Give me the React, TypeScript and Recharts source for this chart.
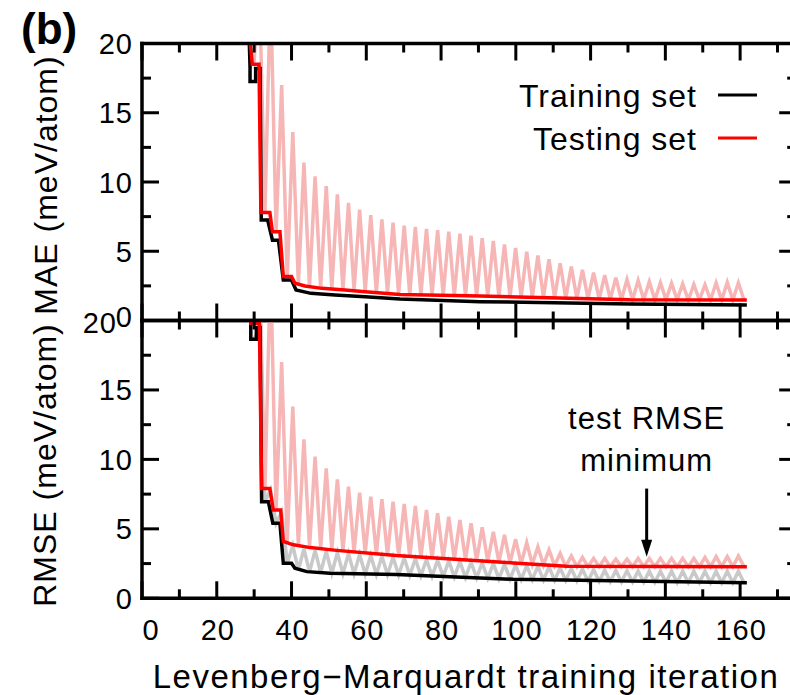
import React from 'react';
import { LineChart, Line, XAxis, YAxis, ReferenceLine } from 'recharts';

const FONT = '"Liberation Sans", Arial, Helvetica, sans-serif';

// ---------- axes ----------
const xTicks = [0, 10, 20, 30, 40, 50, 60, 70, 80, 90, 100, 110, 120, 130, 140, 150, 160, 170];
const xLabelTicks = [0, 20, 40, 60, 80, 100, 120, 140, 160];
const yTicks = [0, 2.5, 5, 7.5, 10, 12.5, 15, 17.5, 20];
const yLabelTicks = [0, 5, 10, 15, 20];
const xDomain = [0, 175];
const yDomain = [0, 20];

const seriesNames = ['Training set', 'Testing set'];
const xTitle = 'Levenberg\u2212Marquardt training iteration';
const maeTitle = 'MAE (meV/atom)';
const rmseTitle = 'RMSE (meV/atom)';
const annotation = ['test RMSE', 'minimum'];
const annotationX = 135;
const annotationFrom = 7.9;
const annotationTo = 3.0;

// ---------- main curves (accepted steps) ----------
const maeTrainX = [28.6, 28.9, 28.9, 30.4, 30.4, 31.6, 31.9, 33.6, 34.9, 36.5, 37.8, 40.0, 41.2, 45.2, 51.6, 59.7, 69.0, 90.4, 130.5, 161.8];
const maeTrainY = [21, 18.3, 17.25, 17.25, 18.2, 18.2, 7.26, 7.26, 5.8, 5.8, 2.93, 2.93, 2.2, 1.96, 1.84, 1.72, 1.55, 1.36, 1.2, 1.12];
const maeTestX = [28.6, 29.5, 31.3, 31.8, 34.2, 34.9, 36.9, 37.8, 40.0, 40.9, 43.6, 48.1, 54.3, 59.7, 69.0, 90.4, 130.5, 161.8];
const maeTestY = [21, 18.5, 18.5, 7.8, 7.8, 6.4, 6.4, 3.17, 3.17, 2.69, 2.49, 2.32, 2.2, 2.08, 1.88, 1.77, 1.5, 1.48];

const rmseTrainX = [29.1, 29.1, 30.6, 30.6, 31.6, 32.0, 33.8, 35.0, 36.9, 37.8, 40.0, 40.9, 44.1, 50.3, 68.0, 99.3, 161.8];
const rmseTrainY = [21, 18.65, 18.65, 19.5, 19.5, 6.95, 6.95, 5.4, 5.4, 2.52, 2.52, 2.16, 1.92, 1.8, 1.72, 1.37, 1.12];
const rmseTestX = [29.1, 29.1, 31.4, 32.0, 34.2, 35.1, 37.1, 37.8, 40.5, 45.0, 52.0, 68.0, 99.3, 113.6, 161.8];
const rmseTestY = [21, 19.8, 19.8, 7.9, 7.9, 6.36, 6.36, 4.1, 3.85, 3.65, 3.45, 3.08, 2.55, 2.3, 2.28];

// ---------- every evaluation (zig-zag) ----------
const zigStartX = 31.4;
const zigStep = 2.98;

const maeTestPeaks = [24, 24, 17.0, 13.6, 11.4, 10.4, 9.7, 9.1, 8.5, 8.0, 7.6, 7.3, 7.07, 6.85, 6.75, 6.62, 6.52, 6.42, 6.27, 6.12, 5.94, 5.74, 5.5, 5.24, 4.97, 4.7, 4.42, 4.13, 3.89, 3.65, 3.46, 3.27, 3.1, 2.96, 2.88, 2.8, 2.73, 2.69, 2.65, 2.6, 2.58, 2.72, 2.75, 2.72];
const maeTestValleys = [18.5, 7.8, 6.4, 3.17, 2.6, 2.45, 2.33, 2.27, 2.2, 2.15, 2.08, 2.03, 1.97, 1.9, 1.88, 1.86, 1.84, 1.82, 1.8, 1.79, 1.77, 1.75, 1.73, 1.71, 1.69, 1.67, 1.65, 1.63, 1.61, 1.59, 1.57, 1.55, 1.53, 1.51, 1.5, 1.5, 1.49, 1.49, 1.49, 1.48, 1.48, 1.48, 1.48, 1.48, 1.48];

const rmseTestPeaks = [24, 24, 17.0, 13.8, 11.45, 10.2, 9.36, 8.57, 8.03, 7.6, 7.31, 7.13, 6.95, 6.79, 6.65, 6.36, 6.12, 5.87, 5.64, 5.4, 5.11, 4.79, 4.56, 4.25, 4.0, 3.71, 3.48, 3.24, 3.05, 2.95, 2.88, 2.88, 2.81, 2.81, 2.88, 2.88, 2.88, 2.88, 2.88, 2.88, 2.95, 3.0, 3.0, 3.05];
const rmseTestValleys = [19.8, 7.9, 6.36, 4.1, 3.78, 3.66, 3.57, 3.48, 3.4, 3.33, 3.26, 3.19, 3.12, 3.07, 3.01, 2.95, 2.9, 2.85, 2.8, 2.75, 2.7, 2.65, 2.6, 2.56, 2.5, 2.45, 2.4, 2.35, 2.3, 2.28, 2.28, 2.28, 2.28, 2.28, 2.28, 2.28, 2.28, 2.28, 2.28, 2.28, 2.28, 2.28, 2.28, 2.28, 2.28];

const rmseTrainPeaks = [19.5, 7.8, 6.2, 3.8, 3.55, 3.45, 3.38, 3.3, 3.22, 3.15, 3.08, 3.02, 2.96, 2.9, 2.85, 2.8, 2.75, 2.7, 2.65, 2.6, 2.55, 2.5, 2.45, 2.4, 2.35, 2.3, 2.25, 2.2, 2.15, 2.1, 2.05, 2.02, 2.0, 1.98, 1.96, 1.95, 1.95, 1.95, 1.95, 1.95, 1.95, 1.95, 1.95, 1.95];
const rmseTrainValleys = [18.65, 6.95, 5.4, 2.52, 2.05, 1.9, 1.85, 1.8, 1.78, 1.76, 1.74, 1.72, 1.7, 1.68, 1.65, 1.62, 1.59, 1.56, 1.53, 1.5, 1.47, 1.44, 1.41, 1.38, 1.36, 1.34, 1.32, 1.3, 1.28, 1.26, 1.24, 1.22, 1.2, 1.19, 1.18, 1.17, 1.16, 1.15, 1.14, 1.13, 1.13, 1.12, 1.12, 1.12, 1.12];

// ---------- colours ----------
const BLACK = '#000000';
const RED = '#ff0000';
const PINK = '#f6b6b6';
const GREY = '#c9c9c9';

const pairs = (xs: number[], ys: number[]) => xs.map((x, i) => ({ x, y: ys[i] }));
const zig = (peaks: number[], valleys: number[]) => {
  const pts: { x: number; y: number }[] = [];
  valleys.forEach((v, i) => {
    pts.push({ x: zigStartX + zigStep * i - zigStep / 2, y: v });
    if (i < peaks.length) pts.push({ x: zigStartX + zigStep * i, y: peaks[i] });
  });
  return pts;
};

const maeTrain = pairs(maeTrainX, maeTrainY);
const maeTest = pairs(maeTestX, maeTestY);
const rmseTrain = pairs(rmseTrainX, rmseTrainY);
const rmseTest = pairs(rmseTestX, rmseTestY);
const maeTestZig = zig(maeTestPeaks, maeTestValleys);
const rmseTestZig = zig(rmseTestPeaks, rmseTestValleys);
const rmseTrainZig = zig(rmseTrainPeaks, rmseTrainValleys);

// ---------- layout ----------
const CHART_W = 830;
const PLOT_LEFT = 142;
const PLOT_W = 654.2;
const AX = 1; // axis box thickness (needs to be > 0 for recharts to draw it)
const TOP_H = 340;
const TOP_PLOT_TOP = 43.5;
const TOP_PLOT_H = 277;
const BOT_OFFSET = 300;
const BOT_H = 395;
const BOT_PLOT_TOP = 20.5;
const BOT_PLOT_H = 277.8;
const H_MARGIN = { left: PLOT_LEFT - AX, right: CHART_W - PLOT_LEFT - PLOT_W - AX };
const TOP_MARGIN = { ...H_MARGIN, top: TOP_PLOT_TOP - AX, bottom: TOP_H - TOP_PLOT_TOP - TOP_PLOT_H - AX };
const BOT_MARGIN = { ...H_MARGIN, top: BOT_PLOT_TOP - AX, bottom: BOT_H - BOT_PLOT_TOP - BOT_PLOT_H - AX };

const TICK_FONT = 29;
const MAJOR = 17;
const MINOR = 9;

const makeXTick = (side: 'top' | 'bottom', labels: boolean) => (props: any) => {
  const { x, y, payload } = props;
  const v = payload.value;
  const len = v % 20 === 0 ? MAJOR : MINOR;
  const dir = side === 'bottom' ? -1 : 1;
  return (
    <g>
      <line x1={x} x2={x} y1={y} y2={y + dir * len} stroke={BLACK} strokeWidth={3} />
      {labels && xLabelTicks.includes(v) ? (
        <text x={x + (v === 0 ? 9 : 1)} y={y + 42} textAnchor="middle" fontSize={TICK_FONT} fontFamily={FONT} fill={BLACK} letterSpacing={1}>
          {v}
        </text>
      ) : null}
    </g>
  );
};

const makeYTick = (side: 'left' | 'right', panel: 'top' | 'bottom') => (props: any) => {
  const { x, y, payload } = props;
  const v = payload.value;
  const isLabel = yLabelTicks.includes(v);
  const len = isLabel ? MAJOR : MINOR;
  const dir = side === 'left' ? 1 : -1;
  let lx = x - 9;
  let ly = y + 10.5;
  if (panel === 'top' && v === 0) ly = y + 6;
  if (panel === 'bottom' && v === 20) {
    lx = x - 25;
    ly = y + 12.5;
  }
  return (
    <g>
      <line x1={x} x2={x + dir * len} y1={y} y2={y} stroke={BLACK} strokeWidth={3} />
      {side === 'left' && isLabel ? (
        <text x={lx} y={ly} textAnchor="end" fontSize={TICK_FONT} fontFamily={FONT} fill={BLACK} letterSpacing={1}>
          {v}
        </text>
      ) : null}
    </g>
  );
};

const axisLine = { stroke: BLACK, strokeWidth: 3.5, strokeLinecap: 'square' as const };

const ArrowShape = (props: any) => {
  const { x1, y1, x2, y2 } = props;
  return (
    <g>
      <text x={x1} y={y1 - 60} textAnchor="middle" fontSize={31} fontFamily={FONT} fill={BLACK} letterSpacing={1}>
        {annotation[0]}
      </text>
      <text x={x1} y={y1 - 18} textAnchor="middle" fontSize={31} fontFamily={FONT} fill={BLACK} letterSpacing={1}>
        {annotation[1]}
      </text>
      <line x1={x1} y1={y1} x2={x2} y2={y2 - 14} stroke={BLACK} strokeWidth={3} />
      <polygon points={`${x2 - 5.5},${y2 - 17} ${x2 + 5.5},${y2 - 17} ${x2},${y2}`} fill={BLACK} />
    </g>
  );
};

function axesFor(panel: 'top' | 'bottom') {
  return [
    <XAxis key="xb" xAxisId="b" dataKey="x" type="number" orientation="bottom" domain={xDomain} ticks={xTicks} interval={0}
      allowDataOverflow height={AX} tickSize={0} tickMargin={0} tickLine={false} axisLine={axisLine}
      tick={makeXTick('bottom', panel === 'bottom')} />,
    <XAxis key="xt" xAxisId="t" dataKey="x" type="number" orientation="top" domain={xDomain} ticks={xTicks} interval={0}
      allowDataOverflow height={AX} tickSize={0} tickMargin={0} tickLine={false} axisLine={axisLine}
      tick={makeXTick('top', false)} />,
    <YAxis key="yl" yAxisId="l" type="number" orientation="left" domain={yDomain} ticks={yTicks} interval={0}
      allowDataOverflow width={AX} tickSize={0} tickMargin={0} tickLine={false} axisLine={axisLine}
      tick={makeYTick('left', panel)} />,
    <YAxis key="yr" yAxisId="r" type="number" orientation="right" domain={yDomain} ticks={yTicks} interval={0}
      allowDataOverflow width={AX} tickSize={0} tickMargin={0} tickLine={false} axisLine={axisLine}
      tick={makeYTick('right', panel)} />,
  ];
}

const lineCommon = {
  xAxisId: 'b',
  yAxisId: 'l',
  dataKey: 'y',
  dot: false,
  activeDot: false,
  isAnimationActive: false,
  type: 'linear' as const,
};

export default function App() {
  return (
    <div style={{ position: 'absolute', left: 0, top: 0, width: 790, height: 695, overflow: 'hidden', background: '#fff' }}>
      <div style={{ position: 'absolute', left: 0, top: 0 }}>
        <LineChart width={CHART_W} height={TOP_H} margin={TOP_MARGIN}>
          {axesFor('top')}
          <Line {...lineCommon} data={maeTestZig} stroke={PINK} strokeWidth={3.5} legendType="none" />
          <Line {...lineCommon} data={maeTrain} name={seriesNames[0]} stroke={BLACK} strokeWidth={3.5} />
          <Line {...lineCommon} data={maeTest} name={seriesNames[1]} stroke={RED} strokeWidth={3.5} />
        </LineChart>
      </div>
      <div style={{ position: 'absolute', left: 0, top: BOT_OFFSET }}>
        <LineChart width={CHART_W} height={BOT_H} margin={BOT_MARGIN}>
          {axesFor('bottom')}
          <Line {...lineCommon} data={rmseTrainZig} stroke={GREY} strokeWidth={3.5} legendType="none" />
          <Line {...lineCommon} data={rmseTestZig} stroke={PINK} strokeWidth={3.5} legendType="none" />
          <Line {...lineCommon} data={rmseTrain} name={seriesNames[0]} stroke={BLACK} strokeWidth={3.5} />
          <Line {...lineCommon} data={rmseTest} name={seriesNames[1]} stroke={RED} strokeWidth={3.5} />
          <ReferenceLine xAxisId="b" yAxisId="l" segment={[{ x: annotationX, y: annotationFrom }, { x: annotationX, y: annotationTo }]}
            shape={ArrowShape} />
        </LineChart>
      </div>
      <svg width={790} height={695} style={{ position: 'absolute', left: 0, top: 0, pointerEvents: 'none' }}>
        <text x={21} y={44} fontSize={44} fontWeight="bold" fontFamily={FONT} fill={BLACK}>(b)</text>
        <text transform="translate(57,185) rotate(-90)" textAnchor="middle" fontSize={32} fontFamily={FONT} fill={BLACK} letterSpacing={1}>{maeTitle}</text>
        <text transform="translate(56,465) rotate(-90)" textAnchor="middle" fontSize={32} fontFamily={FONT} fill={BLACK} letterSpacing={1}>{rmseTitle}</text>
        <text x={466} y={688} textAnchor="middle" fontSize={33} fontFamily={FONT} fill={BLACK} letterSpacing={1.5}>{xTitle}</text>
        <text x={697} y={107} textAnchor="end" fontSize={32} fontFamily={FONT} fill={BLACK} letterSpacing={1}>{seriesNames[0]}</text>
        <line x1={718} x2={757} y1={95} y2={95} stroke={BLACK} strokeWidth={3} />
        <text x={697} y={150} textAnchor="end" fontSize={32} fontFamily={FONT} fill={BLACK} letterSpacing={1}>{seriesNames[1]}</text>
        <line x1={718} x2={757} y1={138} y2={138} stroke={RED} strokeWidth={3} />
      </svg>
    </div>
  );
}
